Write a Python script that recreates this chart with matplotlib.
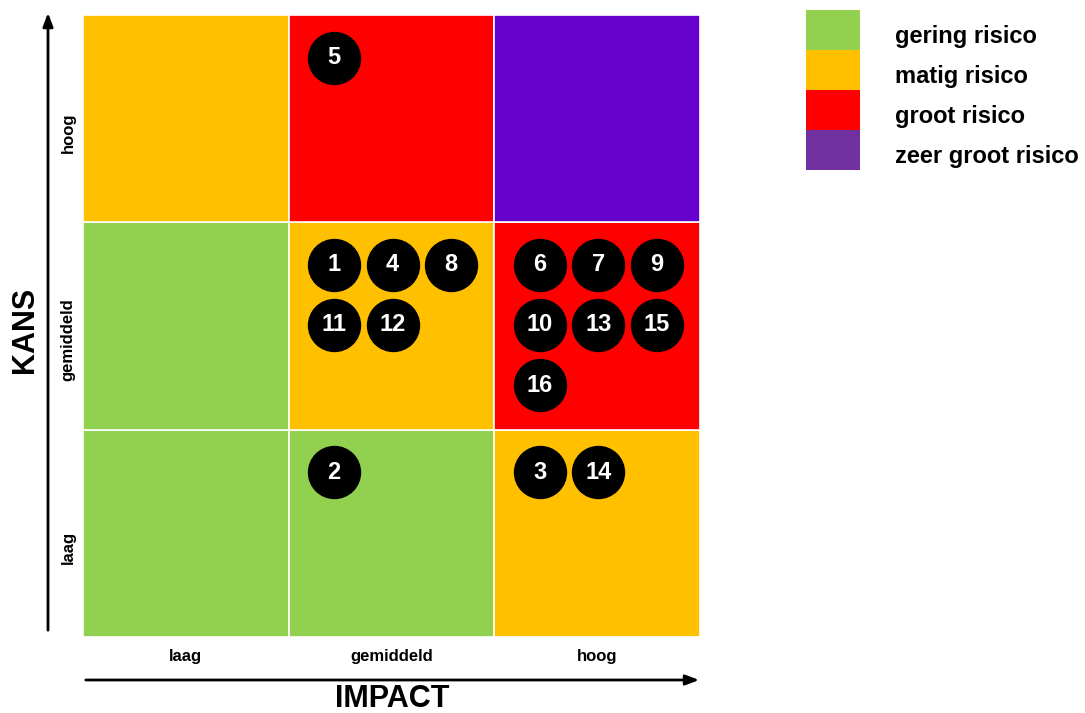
import matplotlib.pyplot as plt
from matplotlib.patches import Rectangle

# risico matrix: kleur per cel (rij = kans laag->hoog, kolom = impact laag->hoog)
levels = ["laag", "gemiddeld", "hoog"]
cell_colors = [
    ["#92D050", "#92D050", "#FFC000"],   # kans laag
    ["#92D050", "#FFC000", "#FF0000"],   # kans gemiddeld
    ["#FFC000", "#FF0000", "#6600CC"],   # kans hoog
]

# risico's: nummer, impact (kolom), kans (rij)
risk_ids = [1, 2, 3, 4, 5, 6, 7, 8, 9, 10, 11, 12, 13, 14, 15, 16]
risk_impact = [1, 1, 2, 1, 1, 2, 2, 1, 2, 2, 1, 1, 2, 2, 2, 2]
risk_kans = [1, 0, 0, 1, 2, 1, 1, 1, 1, 1, 1, 1, 1, 0, 1, 1]

legend_labels = ["gering risico", "matig risico", "groot risico", "zeer groot risico"]
legend_colors = ["#92D050", "#FFC000", "#FF0000", "#7030A0"]

W, H = 1085, 713
fig = plt.figure(figsize=(W / 100, H / 100), dpi=100)
narrow = ["Liberation Sans Narrow", "Liberation Sans", "DejaVu Sans"]
sans = ["Liberation Sans", "DejaVu Sans"]

def px(x0, y0, x1, y1):
    return [x0 / W, 1 - y1 / H, (x1 - x0) / W, (y1 - y0) / H]

ax = fig.add_axes(px(83, 15, 700, 637))
ax.set_xlim(0, 3)
ax.set_ylim(0, 3)
ax.axis("off")

for r in range(3):
    for c in range(3):
        ax.add_patch(Rectangle((c, r), 1, 1, facecolor=cell_colors[r][c],
                               edgecolor="white", linewidth=1.2))

# bolletjes per cel plaatsen, 3 per rij
counts = {}
for rid, imp, kans in zip(risk_ids, risk_impact, risk_kans):
    k = counts.get((imp, kans), 0)
    counts[(imp, kans)] = k + 1
    col, row = k % 3, k // 3
    x = imp + 0.22 + col * 0.285
    y = kans + 1 - 0.205 - row * 0.29
    ax.scatter(x, y, s=1400, color="black", zorder=3)
    ax.text(x, y, str(rid), color="white", fontsize=17, fontweight="bold",
            ha="center", va="center", family=narrow, zorder=4)

# as-labels
for i, lab in enumerate(levels):
    fig.text((83 + (i + 0.5) * 617 / 3) / W, 1 - 657 / H, lab, ha="center", va="center",
             fontsize=12, fontweight="bold", family=sans)
    fig.text(68 / W, 1 - (637 - (i + 0.5) * 622 / 3 + 14) / H, lab, ha="center", va="center",
             rotation=90, fontsize=12, fontweight="bold", family=sans)

ax_arrow = fig.add_axes([0, 0, 1, 1], facecolor="none")
ax_arrow.set_xlim(0, W)
ax_arrow.set_ylim(H, 0)
ax_arrow.axis("off")
ax_arrow.annotate("", xy=(48, 10), xytext=(48, 633),
                  arrowprops=dict(arrowstyle="-|>,head_length=0.8,head_width=0.3", color="black", lw=2))
ax_arrow.annotate("", xy=(702, 680), xytext=(83, 680),
                  arrowprops=dict(arrowstyle="-|>,head_length=0.8,head_width=0.3", color="black", lw=2))

fig.text(392 / W, 1 - 699 / H, "IMPACT", ha="center", va="center",
         fontsize=22, fontweight="bold", family=narrow)
fig.text(25 / W, 1 - 330 / H, "KANS", ha="center", va="center", rotation=90,
         fontsize=22, fontweight="bold", family=narrow)

# legenda
for i, (lab, colr) in enumerate(zip(legend_labels, legend_colors)):
    y0 = 10 + i * 40
    ax_arrow.add_patch(Rectangle((806, y0), 54, 40, facecolor=colr, edgecolor="none"))
    ax_arrow.text(895, y0 + 27, lab, ha="left", va="center", fontsize=17,
                  fontweight="bold", family=sans)

fig.savefig("out.png", dpi=100)
